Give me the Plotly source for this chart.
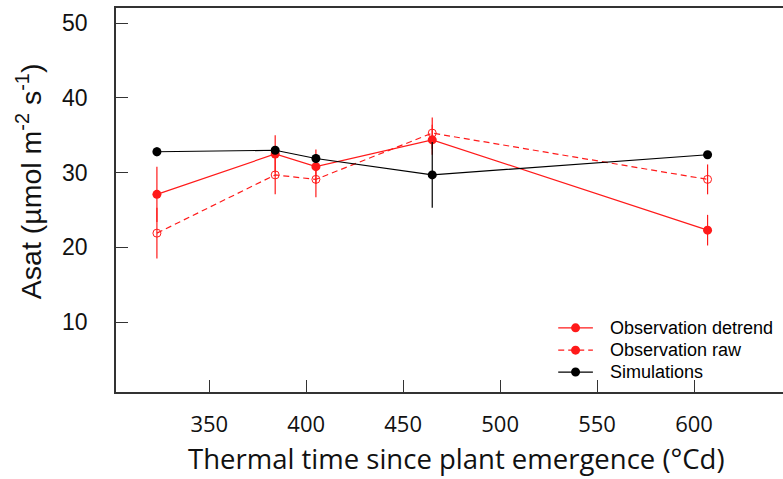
import plotly.graph_objects as go

# thermal time (°Cd)
tt = [323, 384, 405, 465, 607]

# Asat values
detrend = [27.1, 32.5, 30.8, 34.4, 22.3]
detrend_err = [3.7, 2.5, 2.3, 2.0, 2.05]
raw = [21.9, 29.7, 29.1, 35.3, 29.1]
raw_err = [3.4, 2.6, 2.4, 2.1, 2.0]
sim = [32.8, 33.0, 31.9, 29.7, 32.4]
sim_err = [0.6, 0.5, 0.6, 4.4, 0.5]

legend_names = ["Observation detrend", "Observation raw", "Simulations"]

red = "#ff1a1a"
dash = "6px,4px"
fig = go.Figure()

fig.add_trace(go.Scatter(
    x=tt, y=raw, mode="lines+markers", name=legend_names[1],
    line=dict(color=red, width=1.2, dash=dash),
    marker=dict(symbol="circle-open", size=8, color=red, line=dict(width=1)),
    error_y=dict(type="data", array=raw_err, color=red, thickness=1.2, width=0)))
fig.add_trace(go.Scatter(
    x=tt, y=detrend, mode="lines+markers", name=legend_names[0],
    line=dict(color=red, width=1.2),
    marker=dict(symbol="circle", size=9, color=red),
    error_y=dict(type="data", array=detrend_err, color=red, thickness=1.2, width=0)))
fig.add_trace(go.Scatter(
    x=tt, y=sim, mode="lines+markers", name=legend_names[2],
    line=dict(color="black", width=1.2),
    marker=dict(symbol="circle", size=9, color="black"),
    error_y=dict(type="data", array=sim_err, color="black", thickness=1.2, width=0)))

# hand-made legend (tighter rows than plotly's own)
leg_rows = [0.167, 0.109, 0.052]
leg_cols = [red, red, "black"]
leg_dash = ["solid", dash, "solid"]
for name, yy, col, dsh in zip(legend_names, leg_rows, leg_cols, leg_dash):
    fig.add_shape(type="line", xref="paper", yref="paper",
                  x0=0.663, x1=0.715, y0=yy, y1=yy,
                  line=dict(color=col, width=1.2, dash=dsh))
    fig.add_shape(type="circle", xref="paper", yref="paper",
                  xsizemode="pixel", ysizemode="pixel",
                  xanchor=0.689, yanchor=yy, x0=-4.5, x1=4.5, y0=-4.5, y1=4.5,
                  fillcolor=col, line=dict(color=col, width=0))
    fig.add_annotation(x=0.738, y=yy, xref="paper", yref="paper",
                       text=name, showarrow=False, xanchor="left", yanchor="middle",
                       font=dict(family="Liberation Sans, Arial", size=18, color="black"))

# axis titles
fig.add_annotation(x=0.5105, y=-0.172, xref="paper", yref="paper",
                   text="Thermal time since plant emergence (°Cd)", showarrow=False,
                   xanchor="center", yanchor="middle",
                   font=dict(family="Open Sans", size=27.5, color="#111"))
fig.add_annotation(x=-0.131, y=0.548, xref="paper", yref="paper",
                   text="Asat (µmol m<sup>-2</sup> s<sup>-1</sup>)", showarrow=False,
                   textangle=-90, xanchor="center", yanchor="middle",
                   font=dict(family="Liberation Sans, Arial", size=28.5, color="#111"))

fig.update_layout(
    width=783, height=479,
    margin=dict(l=116, r=0, t=8, b=87),
    plot_bgcolor="white", paper_bgcolor="white",
    showlegend=False,
    xaxis=dict(
        range=[301.9, 645.9], tickvals=[350, 400, 450, 500, 550, 600],
        ticks="inside", ticklen=12, tickcolor="#333", showgrid=False, zeroline=False,
        showline=True, linecolor="#333", linewidth=1.5, mirror=True,
        tickfont=dict(family="Open Sans", size=22, color="#111"),
        ticklabelstandoff=12),
    yaxis=dict(
        range=[0.63, 52.05], tickvals=[10, 20, 30, 40, 50],
        ticks="inside", ticklen=12, tickcolor="#333", showgrid=False, zeroline=False,
        showline=True, linecolor="#333", linewidth=1.5,
        tickfont=dict(family="Liberation Sans, Arial", size=23, color="#111"),
        ticklabelstandoff=22),
)

# drop the browser's default 8px body margin so the figure sits at the page corner
fig.write_html("out.html", config={"displayModeBar": False},
               post_script="document.body.style.margin='0';")
